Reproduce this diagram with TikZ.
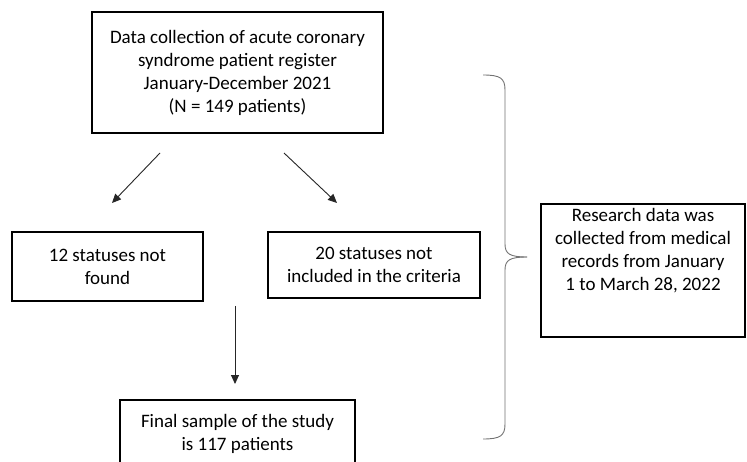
\documentclass[tikz,border=0pt]{standalone}
\usepackage{fontspec}
\setmainfont{Carlito}
\usetikzlibrary{arrows.meta}
\begin{document}
\begin{tikzpicture}[x=1pt,y=-1pt,
  box/.style={draw=black, line width=2.6pt, rectangle, inner sep=0pt},
  txt/.style={align=center, font=\fontsize{19}{23}\selectfont, inner sep=0pt},
  arr/.style={draw=black!85, line width=0.9pt, -{Triangle[length=9pt,width=8pt]}},
  brace/.style={draw=black!55, line width=0.9pt}
]
\useasboundingbox (0,0) rectangle (747,462);
\clip (0,0) rectangle (747,462);
\fill[white] (0,0) rectangle (747,462);
% boxes
\node[box, minimum width=291, minimum height=121, txt] (top) at (237.5,72.5)
  {Data collection of acute coronary\\syndrome patient register\\January-December 2021\\(N = 149 patients)};
\node[box, minimum width=191, minimum height=69, txt] (nf) at (107.5,266.5)
  {12 statuses not\\found};
\node[box, minimum width=212, minimum height=66, txt] (ni) at (374,265)
  {20 statuses not\\included in the criteria};
\node[box, minimum width=235, minimum height=67, txt] (fin) at (237.5,433.5)
  {Final sample of the study\\is 117 patients};
\node[box, minimum width=204, minimum height=133] (res) at (643,270.5) {};
\node[txt] (restext) at (643,251)
  {Research data was\\collected from medical\\records from January\\1 to March 28, 2022};
% arrow ends
\coordinate (a1s) at (160,153);
\coordinate (a1e) at (112,203);
\coordinate (a2s) at (284,153);
\coordinate (a2e) at (337,203);
\coordinate (a3s) at (235,306);
\coordinate (a3e) at (235,384);
\draw[arr] (a1s) -- (a1e);
\draw[arr] (a2s) -- (a2e);
\draw[arr] (a3s) -- (a3e);
% brace
\draw[brace] (483,75) .. controls (500,75) and (505,78) .. (505,90)
  -- (505,244) .. controls (505,254) and (510,257) .. (527,257);
\draw[brace] (483,439) .. controls (500,439) and (505,436) .. (505,424)
  -- (505,270) .. controls (505,260) and (510,257) .. (527,257);
\end{tikzpicture}
\end{document}
